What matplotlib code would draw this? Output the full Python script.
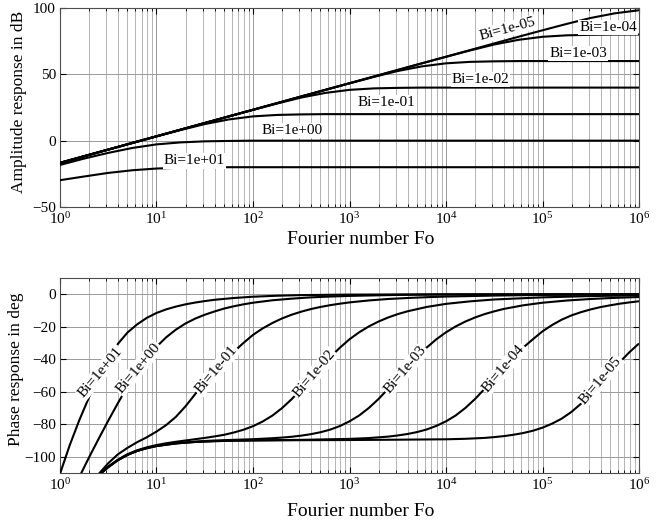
import numpy as np
import matplotlib
matplotlib.use("Agg")
import matplotlib.pyplot as plt
from matplotlib.ticker import FixedLocator, NullFormatter, LogFormatterSciNotation

# ---------------- data ----------------
bi_names = ["Bi=1e+01", "Bi=1e+00", "Bi=1e-01", "Bi=1e-02", "Bi=1e-03", "Bi=1e-04", "Bi=1e-05"]

# amplitude response (dB) sampled at log10(Fo) = 0, 0.25, ..., 6
amp_exp = [0, 0.25, 0.5, 0.75, 1.0, 1.25, 1.5, 1.75, 2.0, 2.25, 2.5, 2.75, 3.0,
           3.25, 3.5, 3.75, 4.0, 4.25, 4.5, 4.75, 5.0, 5.25, 5.5, 5.75, 6.0]
amp_bi1e1 = [-29.8, -27.0, -24.3, -22.3, -21.0, -20.4, -20.1, -20, -20, -20, -20, -20, -20,
             -20, -20, -20, -20, -20, -20, -20, -20, -20, -20, -20, -20]
amp_bi1e0 = [-18.3, -13.5, -9.2, -5.5, -2.8, -1.3, -0.5, -0.2, 0, 0, 0, 0, 0,
             0, 0, 0, 0, 0, 0, 0, 0, 0, 0, 0, 0]
amp_bi1em1 = [-17.0, -11.9, -6.8, -1.8, 3.2, 8.0, 12.5, 16.0, 18.3, 19.4, 19.8, 20, 20,
              20, 20, 20, 20, 20, 20, 20, 20, 20, 20, 20, 20]
amp_bi1em2 = [-16.7, -11.7, -6.7, -1.7, 3.3, 8.3, 13.3, 18.3, 23.2, 28.0, 32.5, 36.0, 38.3,
              39.4, 39.8, 40, 40, 40, 40, 40, 40, 40, 40, 40, 40]
amp_bi1em3 = [-16.7, -11.7, -6.7, -1.7, 3.3, 8.3, 13.3, 18.3, 23.3, 28.3, 33.3, 38.3, 43.2,
              48.0, 52.5, 56.0, 58.3, 59.4, 59.8, 60, 60, 60, 60, 60, 60]
amp_bi1em4 = [-16.7, -11.7, -6.7, -1.7, 3.3, 8.3, 13.3, 18.3, 23.3, 28.3, 33.3, 38.3, 43.3,
              48.3, 53.3, 58.3, 63.2, 68.0, 72.5, 76.0, 78.3, 79.4, 79.8, 80, 80]
amp_bi1em5 = [-16.7, -11.7, -6.7, -1.7, 3.3, 8.3, 13.3, 18.3, 23.3, 28.3, 33.3, 38.3, 43.3,
              48.3, 53.3, 58.3, 63.3, 68.3, 73.3, 78.3, 83.2, 88.0, 92.5, 96.0, 98.3]

# phase response (deg), each curve with its own log10(Fo) samples
ph_exp_bi1e1 = [0, 0.1, 0.2, 0.3, 0.4, 0.5, 0.6, 0.7, 0.8, 0.9, 1.0, 1.1, 1.2, 1.3, 1.4,
                1.5, 1.6, 1.8, 2.0, 2.25, 2.5, 3.0, 4.0, 6.0]
ph_bi1e1 = [-110.5, -93, -77.5, -63.5, -50.5, -39.5, -30.5, -23.5, -18.5, -14.5, -11.5,
            -9.3, -7.6, -6.2, -5.1, -4.2, -3.4, -2.3, -1.5, -0.9, -0.5, -0.2, 0, 0]

ph_exp_bi1e0 = [0.2, 0.3, 0.4, 0.5, 0.6, 0.7, 0.8, 0.9, 1.0, 1.1, 1.2, 1.3, 1.4, 1.5, 1.6,
                1.7, 1.8, 1.9, 2.0, 2.2, 2.4, 2.6, 2.8, 3.0, 3.5, 4.0, 5.0, 6.0]
ph_bi1e0 = [-112.5, -100.5, -89, -77.8, -67, -56.8, -47.5, -39.3, -32.3, -26.5, -21.8,
            -18.0, -15.0, -12.6, -10.6, -8.8, -7.4, -6.2, -5.2, -3.7, -2.7, -1.9, -1.4,
            -1.0, -0.4, -0.15, 0, 0]

ph_exp_bi1em1 = [0.38, 0.5, 0.6, 0.7, 0.8, 0.9, 1.0, 1.1, 1.2, 1.3, 1.4, 1.5, 1.6, 1.7,
                 1.8, 1.9, 2.0, 2.1, 2.2, 2.3, 2.4, 2.5, 2.6, 2.7, 2.8, 2.9, 3.0, 3.2,
                 3.4, 3.6, 3.8, 4.0, 4.5, 5.0, 6.0]
ph_bi1em1 = [-112, -104, -98.5, -94.5, -91, -88, -84.5, -80.5, -75.5, -69, -61.5, -54,
             -47.5, -41.5, -35.5, -30, -25, -21, -17.7, -14.9, -12.6, -10.7, -9.1, -7.8,
             -6.7, -5.8, -5.0, -3.8, -2.9, -2.3, -1.8, -1.4, -0.8, -0.4, 0]

ph_exp_bi1em2 = [0.4, 0.5, 0.6, 0.7, 0.8, 0.9, 1.0, 1.1, 1.2, 1.3, 1.4, 1.5, 1.6, 1.7,
                 1.8, 1.9, 2.0, 2.1, 2.2, 2.3, 2.4, 2.5, 2.6, 2.7, 2.8, 2.9, 3.0, 3.1,
                 3.2, 3.3, 3.4, 3.5, 3.6, 3.8, 4.0, 4.25, 4.5, 5.0, 5.5, 6.0]
ph_bi1em2 = [-111.1, -106.0, -101.8, -98.4, -96.0, -94.2, -92.8, -91.7, -90.8, -90.0,
             -89.2, -88.4, -87.5, -86.5, -85.1, -83.4, -81.2, -78.3, -74.7, -70.1, -64.6,
             -58.3, -51.7, -45.1, -38.7, -32.9, -27.7, -23.4, -19.8, -16.8, -14.3, -12.2,
             -10.5, -7.8, -5.9, -4.35, -3.2, -1.9, -1.1, -0.65]

ph_exp_bi1em3 = [0.4, 0.5, 0.6, 0.7, 0.8, 0.9, 1.0, 1.1, 1.2, 1.3, 1.4, 1.5, 1.6, 1.7,
                 1.8, 1.9, 2.0, 2.1, 2.2, 2.3, 2.4, 2.5, 2.6, 2.7, 2.8, 2.9, 3.0, 3.1,
                 3.2, 3.3, 3.4, 3.5, 3.6, 3.7, 3.8, 3.9, 4.0, 4.1, 4.2, 4.3, 4.4, 4.5,
                 4.6, 4.8, 5.0, 5.25, 5.5, 5.75, 6.0]
ph_bi1em3 = [-111.3, -106.3, -102.0, -98.8, -96.4, -94.6, -93.3, -92.4, -91.7, -91.1,
             -90.7, -90.3, -90.0, -89.8, -89.6, -89.4, -89.2, -88.9, -88.6, -88.2, -87.7,
             -87.0, -86.1, -84.9, -83.3, -81.1, -78.2, -74.6, -70.0, -64.5, -58.2, -51.6,
             -45.0, -38.6, -32.8, -27.7, -23.4, -19.8, -16.8, -14.3, -12.2, -10.5, -9.0,
             -6.8, -5.2, -3.85, -2.9, -2.2, -1.7]

ph_exp_bi1em4 = [0.4, 0.5, 0.6, 0.7, 0.8, 0.9, 1.0, 1.2, 1.4, 1.6, 1.8, 2.0, 2.5, 3.0,
                 3.2, 3.4, 3.5, 3.6, 3.7, 3.8, 3.9, 4.0, 4.1, 4.2, 4.3, 4.4, 4.5, 4.6,
                 4.7, 4.8, 4.9, 5.0, 5.1, 5.2, 5.3, 5.4, 5.5, 5.6, 5.7, 5.8, 5.9, 6.0]
ph_bi1em4 = [-111.4, -106.4, -102.1, -98.8, -96.4, -94.7, -93.4, -91.8, -90.9, -90.4,
             -90.1, -89.9, -89.6, -89.0, -88.5, -87.6, -86.9, -86.0, -84.8, -83.2, -81.0,
             -78.2, -74.6, -70.0, -64.5, -58.2, -51.6, -45.0, -38.6, -32.8, -27.7, -22.8,
             -18.9, -15.6, -13.0, -11.0, -9.3, -7.9, -6.8, -5.8, -5.0, -4.3]

ph_exp_bi1em5 = [0.4, 0.5, 0.6, 0.7, 0.8, 0.9, 1.0, 1.2, 1.4, 1.6, 1.8, 2.0, 2.5, 3.0,
                 3.5, 4.0, 4.2, 4.4, 4.5, 4.6, 4.7, 4.8, 4.9, 5.0, 5.1, 5.2, 5.3, 5.4,
                 5.5, 5.6, 5.7, 5.8, 5.9, 6.0]
ph_bi1em5 = [-111.4, -106.4, -102.1, -98.8, -96.4, -94.7, -93.4, -91.8, -90.9, -90.4,
             -90.15, -90.0, -89.8, -89.7, -89.5, -89.25, -88.95, -88.4, -87.9, -87.3,
             -86.45, -85.4, -84.0, -82.1, -79.6, -76.5, -72.4, -67.3, -61.4, -55.0,
             -48.3, -41.8, -35.7, -30.3]

amp_series = [amp_bi1e1, amp_bi1e0, amp_bi1em1, amp_bi1em2, amp_bi1em3, amp_bi1em4, amp_bi1em5]
ph_series = [(ph_exp_bi1e1, ph_bi1e1), (ph_exp_bi1e0, ph_bi1e0), (ph_exp_bi1em1, ph_bi1em1),
             (ph_exp_bi1em2, ph_bi1em2), (ph_exp_bi1em3, ph_bi1em3),
             (ph_exp_bi1em4, ph_bi1em4), (ph_exp_bi1em5, ph_bi1em5)]

# decade ticks of the Fourier-number axis
x_major = [1e0, 1e1, 1e2, 1e3, 1e4, 1e5, 1e6]

# ---------------- style ----------------
plt.rcParams["font.family"] = ["Liberation Serif", "DejaVu Serif"]
plt.rcParams["mathtext.fontset"] = "custom"
plt.rcParams["mathtext.rm"] = "Liberation Serif"
plt.rcParams["mathtext.it"] = "Liberation Serif:italic"
plt.rcParams["mathtext.bf"] = "Liberation Serif:bold"

fig = plt.figure(figsize=(6.6, 5.23), dpi=100)
ax1 = fig.add_axes([0.0909, 0.6042, 0.8773, 0.3805])
ax2 = fig.add_axes([0.0909, 0.0956, 0.8773, 0.3728])

line_kw = dict(color="black", lw=1.5, solid_capstyle="butt", solid_joinstyle="round", zorder=3)
box = dict(facecolor="white", edgecolor="none", pad=0.8)

fo_amp = 10.0 ** np.array(amp_exp)
for vals in amp_series:
    ax1.plot(fo_amp, vals, **line_kw)

for exps, vals in ph_series:
    ax2.plot(10.0 ** np.array(exps), vals, **line_kw)

x_minor = [k * d for d in x_major[:-1] for k in range(2, 10)]
for ax in (ax1, ax2):
    ax.set_xscale("log")
    ax.set_xlim(1, 1e6)
    ax.xaxis.set_major_locator(FixedLocator(x_major))
    ax.xaxis.set_major_formatter(LogFormatterSciNotation())
    ax.xaxis.set_minor_locator(FixedLocator(x_minor))
    ax.xaxis.set_minor_formatter(NullFormatter())
    ax.grid(True, which="major", color="0.6", lw=0.7)
    ax.grid(True, which="minor", axis="x", color="0.66", lw=0.6)
    ax.set_axisbelow(True)
    ax.tick_params(which="both", direction="in", top=True, right=True,
                   labelsize=11, pad=3)
    ax.tick_params(which="major", length=4)
    ax.tick_params(which="minor", length=2)
    for sp in ax.spines.values():
        sp.set_linewidth(0.8)
        sp.set_color("0.3")
    ax.set_xlabel("Fourier number Fo", fontsize=14)
    ax.xaxis.label.set_va("center")

ax1.set_ylim(-50, 100)
ax1.yaxis.set_major_locator(FixedLocator([-50, 0, 50, 100]))
ax1.set_ylabel("Amplitude response in dB", fontsize=12.5, va="center")
ax1.yaxis.set_label_coords(-0.071, 0.53)
ax1.xaxis.set_label_coords(0.52, -0.165)

ax2.set_ylim(-110, 10)
ax2.yaxis.set_major_locator(FixedLocator([-100, -80, -60, -40, -20, 0]))
ax2.set_ylabel("Phase response in deg", fontsize=12.5, va="center")
ax2.yaxis.set_label_coords(-0.076, 0.53)
ax2.xaxis.set_label_coords(0.52, -0.197)

# curve labels, amplitude panel
amp_lab_fo = [24.6, 257, 2390, 22800, 235000, 481000, 43200]
amp_lab_db = [-15.3, 7.4, 28.5, 46, 66, 85.5, 84]
amp_lab_rot = [0, 0, 0, 0, 0, 0, 15]
for name, x, y, r in zip(bi_names, amp_lab_fo, amp_lab_db, amp_lab_rot):
    ax1.text(x, y, name, fontsize=11, ha="center", va="center", rotation=r,
             rotation_mode="anchor", bbox=box, zorder=4)

# curve labels, phase panel (on the curves)
ph_lab_fo = [10 ** 0.42, 10 ** 0.81, 10 ** 1.62, 10 ** 2.64, 10 ** 3.58, 10 ** 4.6, 10 ** 5.6]
ph_lab_deg = [-48, -45.5, -46.5, -49, -46.5, -45.5, -53]
for name, x, y in zip(bi_names, ph_lab_fo, ph_lab_deg):
    ax2.text(x, y, name, fontsize=11, ha="center", va="center", rotation=50,
             rotation_mode="anchor", bbox=box, zorder=4)

fig.savefig("out.png", dpi=100)
